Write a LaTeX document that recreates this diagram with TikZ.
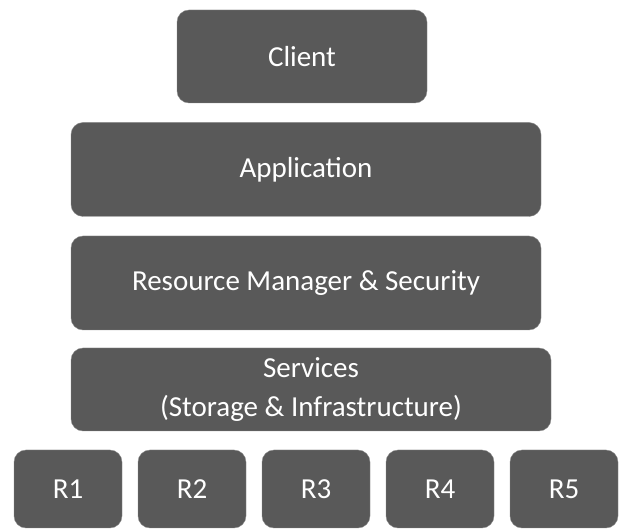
\documentclass[tikz,border=0pt]{standalone}
\usepackage{fontspec}
\setmainfont{Carlito}
\usepackage{tikz}
\definecolor{layergray}{HTML}{595959}
\tikzstyle{layer} = [fill=layergray, draw=layergray!70, rounded corners=12pt,
    text=white, inner sep=0pt, font=\fontsize{29}{39}\selectfont, align=center]
\tikzstyle{res} = [layer, minimum width=108pt, minimum height=78pt]

\begin{document}
\begin{tikzpicture}[x=1pt, y=-1pt]
    \useasboundingbox (0,0) rectangle (622,529);
    % the stack of layers, top to bottom
    \node [layer, minimum width=250pt, minimum height=93pt] (client) at (302,56.5) {Client};
    \node [layer, minimum width=470pt, minimum height=94pt] (app) at (306,169.5) {Application};
    \node [layer, minimum width=470pt, minimum height=94pt] (rm) at (306,283) {Resource Manager \& Security};
    \node [layer, minimum width=480pt, minimum height=83pt] (services) at (311,389.5) {Services\\(Storage \& Infrastructure)};

    % the resources along the bottom
    \foreach \i in {1,...,5} {
        \node [res] (r\i) at (68+124*\i-124, 489) {R\i};
    }
\end{tikzpicture}
\end{document}
